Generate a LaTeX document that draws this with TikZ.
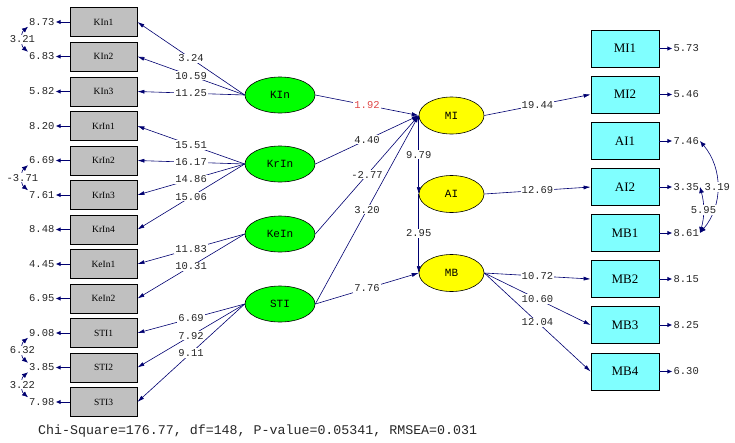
\documentclass[tikz,border=0pt]{standalone}
\usepackage{fontspec}
\setmainfont{Liberation Serif}
\newfontfamily\numfont{Liberation Mono}
\usepackage{tikz}
\usetikzlibrary{shapes.geometric, arrows.meta, positioning}
\definecolor{navy}{HTML}{000070}
\definecolor{boxgrey}{HTML}{C0C0C0}
\definecolor{boxcyan}{HTML}{80FFFF}
\definecolor{latgreen}{HTML}{00FF00}
\definecolor{latyellow}{HTML}{FFFF00}
\definecolor{tred}{HTML}{E04848}
\tikzstyle{obsL} = [draw, line width=0.8pt, fill=boxgrey, minimum width=67pt, minimum height=29pt, inner sep=0pt, font=\fontsize{9.5}{10}\selectfont]
\tikzstyle{obsR} = [draw, line width=0.8pt, fill=boxcyan, minimum width=68pt, minimum height=37pt, inner sep=0pt, font=\fontsize{13}{14}\selectfont]
\tikzstyle{exo} = [ellipse, draw, line width=0.6pt, fill=latgreen, minimum width=70pt, minimum height=36pt, inner sep=0pt, font=\numfont\fontsize{11}{12}\selectfont]
\tikzstyle{endo} = [ellipse, draw, line width=0.6pt, fill=latyellow, minimum width=65pt, minimum height=37pt, inner sep=0pt, font=\numfont\fontsize{11}{12}\selectfont]
\tikzstyle{num} = [inner sep=1pt, text=black!85, font=\numfont\fontsize{10.5}{12}\selectfont]
\tikzstyle{lbl} = [num, fill=white, pos=0.5]
\tikzstyle{arrow} = [navy, line width=0.6pt, -{Latex[length=7pt,width=4pt]}]
\tikzstyle{err} = [navy, line width=0.9pt, -{Latex[length=5pt,width=4.5pt]}]
\tikzstyle{cov} = [navy, line width=0.6pt, {Latex[length=6pt,width=5pt]}-{Latex[length=6pt,width=5pt]}]

\begin{document}
\begin{tikzpicture}[x=1pt, y=-1pt]
  \useasboundingbox (0,0) rectangle (735,442);

  % Indicators of the exogenous factors
  \node[obsL] (KIn1) at (103.5,22) {KIn1};
  \node[obsL] (KIn2) at (103.5,56.5) {KIn2};
  \node[obsL] (KIn3) at (103.5,91.5) {KIn3};
  \node[obsL] (KrIn1) at (103.5,126) {KrIn1};
  \node[obsL] (KrIn2) at (103.5,160.5) {KrIn2};
  \node[obsL] (KrIn3) at (103.5,195) {KrIn3};
  \node[obsL] (KrIn4) at (103.5,229.5) {KrIn4};
  \node[obsL] (KeIn1) at (103.5,264) {KeIn1};
  \node[obsL] (KeIn2) at (103.5,298.5) {KeIn2};
  \node[obsL] (STI1) at (103.5,333) {STI1};
  \node[obsL] (STI2) at (103.5,367.5) {STI2};
  \node[obsL] (STI3) at (103.5,402) {STI3};

  % Indicators of the endogenous factors
  \node[obsR] (MI1) at (625,48.5) {MI1};
  \node[obsR] (MI2) at (625,94.5) {MI2};
  \node[obsR] (AI1) at (625,141) {AI1};
  \node[obsR] (AI2) at (625,187) {AI2};
  \node[obsR] (MB1) at (625,233) {MB1};
  \node[obsR] (MB2) at (625,279) {MB2};
  \node[obsR] (MB3) at (625,325) {MB3};
  \node[obsR] (MB4) at (625,371.5) {MB4};

  % Latent variables
  \node[exo] (KIn) at (280,95) {KIn};
  \node[exo] (KrIn) at (280,164) {KrIn};
  \node[exo] (KeIn) at (280,234) {KeIn};
  \node[exo] (STI) at (280,304) {STI};
  \node[endo] (MI) at (451.5,115.5) {MI};
  \node[endo] (AI) at (451.5,194) {AI};
  \node[endo] (MB) at (451.5,273) {MB};

  % Error terms, left
  \node[num, left=14pt of KIn1] (eKIn1) {8.73};
  \node[num, left=14pt of KIn2] (eKIn2) {6.83};
  \node[num, left=14pt of KIn3] (eKIn3) {5.82};
  \node[num, left=14pt of KrIn1] (eKrIn1) {8.20};
  \node[num, left=14pt of KrIn2] (eKrIn2) {6.69};
  \node[num, left=14pt of KrIn3] (eKrIn3) {7.61};
  \node[num, left=14pt of KrIn4] (eKrIn4) {8.48};
  \node[num, left=14pt of KeIn1] (eKeIn1) {4.45};
  \node[num, left=14pt of KeIn2] (eKeIn2) {6.95};
  \node[num, left=14pt of STI1] (eSTI1) {9.08};
  \node[num, left=14pt of STI2] (eSTI2) {3.85};
  \node[num, left=14pt of STI3] (eSTI3) {7.98};
  \draw[err] (KIn1.west) -- (eKIn1.east);
  \draw[err] (KIn2.west) -- (eKIn2.east);
  \draw[err] (KIn3.west) -- (eKIn3.east);
  \draw[err] (KrIn1.west) -- (eKrIn1.east);
  \draw[err] (KrIn2.west) -- (eKrIn2.east);
  \draw[err] (KrIn3.west) -- (eKrIn3.east);
  \draw[err] (KrIn4.west) -- (eKrIn4.east);
  \draw[err] (KeIn1.west) -- (eKeIn1.east);
  \draw[err] (KeIn2.west) -- (eKeIn2.east);
  \draw[err] (STI1.west) -- (eSTI1.east);
  \draw[err] (STI2.west) -- (eSTI2.east);
  \draw[err] (STI3.west) -- (eSTI3.east);

  % Error terms, right
  \node[num, right=13pt of MI1] (eMI1) {5.73};
  \node[num, right=13pt of MI2] (eMI2) {5.46};
  \node[num, right=13pt of AI1] (eAI1) {7.46};
  \node[num, right=13pt of AI2] (eAI2) {3.35};
  \node[num, right=13pt of MB1] (eMB1) {8.61};
  \node[num, right=13pt of MB2] (eMB2) {8.15};
  \node[num, right=13pt of MB3] (eMB3) {8.25};
  \node[num, right=13pt of MB4] (eMB4) {6.30};
  \draw[err] (MI1.east) -- (eMI1.west);
  \draw[err] (MI2.east) -- (eMI2.west);
  \draw[err] (AI1.east) -- (eAI1.west);
  \draw[err] (AI2.east) -- (eAI2.west);
  \draw[err] (MB1.east) -- (eMB1.west);
  \draw[err] (MB2.east) -- (eMB2.west);
  \draw[err] (MB3.east) -- (eMB3.west);
  \draw[err] (MB4.east) -- (eMB4.west);

  % Error covariances
  \draw[cov] (eKIn1.south west) to[bend right=50] node[lbl] {3.21} (eKIn2.north west);
  \draw[cov] (eKrIn2.south west) to[bend right=50] node[lbl] {-3.71} (eKrIn3.north west);
  \draw[cov] (eSTI1.south west) to[bend right=50] node[lbl] {6.32} (eSTI2.north west);
  \draw[cov] (eSTI2.south west) to[bend right=50] node[lbl] {3.22} (eSTI3.north west);
  \draw[cov] (eAI1.east) to[bend left=40] node[lbl] {3.19} (eMB1.east);
  \draw[cov] (eAI2.east) to[bend left=15] node[lbl] {5.95} (eMB1.east);

  % Loadings, left
  \draw[arrow] (KIn.west) -- node[lbl] {3.24} (KIn1.east);
  \draw[arrow] (KIn.west) -- node[lbl] {10.59} (KIn2.east);
  \draw[arrow] (KIn.west) -- node[lbl] {11.25} (KIn3.east);
  \draw[arrow] (KrIn.west) -- node[lbl] {15.51} (KrIn1.east);
  \draw[arrow] (KrIn.west) -- node[lbl] {16.17} (KrIn2.east);
  \draw[arrow] (KrIn.west) -- node[lbl] {14.86} (KrIn3.east);
  \draw[arrow] (KrIn.west) -- node[lbl] {15.06} (KrIn4.east);
  \draw[arrow] (KeIn.west) -- node[lbl] {11.83} (KeIn1.east);
  \draw[arrow] (KeIn.west) -- node[lbl] {10.31} (KeIn2.east);
  \draw[arrow] (STI.west) -- node[lbl] {6.69} (STI1.east);
  \draw[arrow] (STI.west) -- node[lbl] {7.92} (STI2.east);
  \draw[arrow] (STI.west) -- node[lbl] {9.11} (STI3.east);

  % Structural paths
  \draw[arrow] (KIn.east) -- node[lbl, text=tred] {1.92} (MI.west);
  \draw[arrow] (KrIn.east) -- node[lbl] {4.40} (MI.west);
  \draw[arrow] (KeIn.east) -- node[lbl] {-2.77} (MI.west);
  \draw[arrow] (STI.east) -- node[lbl] {3.20} (MI.west);
  \draw[arrow] (STI.east) -- node[lbl] {7.76} (MB.west);
  \draw[arrow] (MI.west) -- node[lbl] {9.79} (AI.west);
  \draw[arrow] (AI.west) -- node[lbl] {2.95} (MB.west);

  % Loadings, right
  \draw[arrow] (MI.east) -- node[lbl] {19.44} (MI2.west);
  \draw[arrow] (AI.east) -- node[lbl] {12.69} (AI2.west);
  \draw[arrow] (MB.east) -- node[lbl] {10.72} (MB2.west);
  \draw[arrow] (MB.east) -- node[lbl] {10.60} (MB3.west);
  \draw[arrow] (MB.east) -- node[lbl] {12.04} (MB4.west);

  % Fit statistics
  \node[anchor=west, inner sep=0pt, text=black!85, font=\numfont\fontsize{13.3}{15}\selectfont] (fit) at (38,431)
    {Chi-Square=176.77, df=148, P-value=0.05341, RMSEA=0.031};
\end{tikzpicture}
\end{document}
